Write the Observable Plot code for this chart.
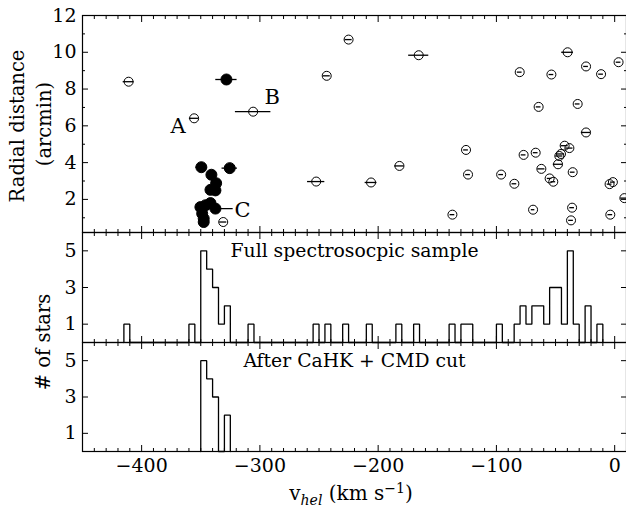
<!DOCTYPE html>
<html>
<head>
<meta charset="utf-8">
<script src="https://cdn.jsdelivr.net/npm/d3@7"></script>
<script src="https://cdn.jsdelivr.net/npm/@observablehq/plot@0.6"></script>
<style>
html, body { margin: 0; padding: 0; background: #fff; overflow: hidden; }
#chart { position: relative; width: 626px; height: 510px; font-family: "DejaVu Serif", serif; color: #000; overflow: hidden; }
.panel { position: absolute; left: 0; }
.panel svg { overflow: visible; }
.lab { position: absolute; white-space: nowrap; line-height: 1; font-size: 19.5px; }
.rot { transform: translate(-50%, -50%) rotate(-90deg); }
</style>
</head>
<body>
<div id="chart">
  <div class="panel" id="p1" style="top:0px"></div>
  <div class="panel" id="p2" style="top:224px"></div>
  <div class="panel" id="p3" style="top:334px"></div>
  <div class="lab rot" style="left:18px; top:126px;">Radial distance</div>
  <div class="lab rot" style="left:45px; top:124px;">(arcmin)</div>
  <div class="lab rot" style="left:44px; top:342px;"># of stars</div>
  <div class="lab" style="left:351px; top:494px; font-size:20px; transform: translate(-50%, -50%);">v<sub style="font-size:14px;font-style:italic">hel</sub> (km s<sup style="font-size:14px">−1</sup>)</div>
</div>
<script>
// ---------------- DATA ----------------
// Non-member stars (open circles): heliocentric velocity, radial distance, velocity error
const openV   = [-411, -355.6, -305.7, -331, -243.5, -225, -165.7, -252.4, -206, -182, -137.2, -125.7, -124,
                 -96, -84.8, -77, -66.8, -69, -62, -55, -51.9, -47.9, -46.8, -45.4, -42.3, -38.3, -35.5, -36, -36.9,
                 -24.2, -4.3, -1.5, -3.7, 8.2, -80.3, -53.5, -39.8, -24.2, -11.5, 3.3, -64.3, -31.3];
const openR   = [8.40, 6.41, 6.77, 0.77, 8.72, 10.69, 9.84, 2.97, 2.92, 3.82, 1.17, 4.69, 3.35,
                 3.35, 2.85, 4.42, 4.54, 1.44, 3.66, 3.14, 2.96, 3.91, 4.36, 4.47, 4.92, 4.79, 3.48, 1.55, 0.86,
                 5.64, 2.83, 2.94, 1.17, 2.07, 8.92, 8.79, 10.0, 9.23, 8.81, 9.46, 7.03, 7.19];
const openErr = [4.6, 4, 15, 3, 3, 3, 8.5, 7.3, 5, 4, 2, 2, 2,
                 2, 2, 2, 2, 1.5, 3, 2, 2, 4, 3, 3, 3, 3, 2, 2, 2,
                 4, 2, 2, 2, 3, 2, 2, 5, 2, 2, 2, 2, 2];

// Member stars (filled circles)
const memberV   = [-328.3, -349.5, -325.5, -341, -337, -341.8, -337.6, -350.3, -346, -341.8, -337.6, -348.8, -347.5, -347.5];
const memberR   = [8.52, 3.75, 3.70, 3.34, 2.88, 2.52, 2.49, 1.58, 1.68, 1.80, 1.50, 1.23, 0.96, 0.77];
const memberErr = [9, 4.6, 6.5, 2, 2, 2, 5, 2, 2, 2, 15, 2, 2, 2];

// Labelled stars: name, which group, index in that group
const labelNames = ["A", "B", "C"];
const labelGroup = ["open", "open", "member"];
const labelIndex = [1, 2, 10];

// Histograms (5 km/s bins): left edge of each non-empty bin and its count
const binWidth = 5;
const fullBinLeft  = [-415, -360, -350, -345, -340, -335, -330, -310, -255, -245, -230, -210, -185, -170, -140,
                      -130, -125, -100, -85, -80, -75, -70, -65, -60, -55, -50, -45, -40, -35, -25, -15];
const fullBinCount = [1, 1, 5, 4, 3, 1, 2, 1, 1, 1, 1, 1, 1, 1, 1,
                      1, 1, 1, 1, 2, 1, 2, 2, 1, 3, 3, 1, 5, 1, 2, 1];
const cutBinLeft  = [-350, -345, -340, -330];
const cutBinCount = [5, 4, 3, 2];

// Axis ticks
const xDomain = [-450, 10];
const xMajor = [-400, -300, -200, -100, 0];
const xMinor = d3.range(-440, 10, 10).filter(v => v % 100 !== 0);
const yTopDomain = [0.2, 12];
const yTopMajor = [2, 4, 6, 8, 10, 12];
const yTopMinor = [1, 3, 5, 7, 9, 11];
const yHistDomain = [0, 6];
const yHistMajor = [1, 3, 5];
const panelTexts = ["Full spectrosocpic sample", "After CaHK + CMD cut"];

// ---------------- HELPERS ----------------
const openStars = openV.map((v, i) => ({v, r: openR[i], e: openErr[i]}));
const memberStars = memberV.map((v, i) => ({v, r: memberR[i], e: memberErr[i]}));
const labels = labelNames.map((name, i) => {
  const s = (labelGroup[i] === "open" ? openStars : memberStars)[labelIndex[i]];
  return {name, v: s.v, r: s.r};
});
const labelOffsets = {A: [-16, 8], B: [19, -14], C: [27, 2]};

function stepVertices(lefts, counts, w) {
  const m = new Map(lefts.map((l, i) => [l, counts[i]]));
  const lo = d3.min(lefts), hi = d3.max(lefts);
  const pts = [{x: lo, y: 0}];
  for (let l = lo; l <= hi + 1e-9; l += w) {
    const c = m.get(l) || 0;
    pts.push({x: l, y: c}, {x: l + w, y: c});
  }
  pts.push({x: hi + w, y: 0});
  return pts;
}

const fmtInt = d => String(d).replace("-", "\u2212");

function frameAxes(yMajor, yMinor, xLabels) {
  const T = 6, t = 3;
  const m = [];
  for (const a of ["bottom", "top"]) {
    m.push(Plot.axisX({anchor: a, ticks: xMajor, tickSize: -T, fill: "none", label: null, strokeWidth: 1}));
    m.push(Plot.axisX({anchor: a, ticks: xMinor, tickSize: -t, fill: "none", label: null, strokeWidth: 1}));
  }
  for (const a of ["left", "right"]) {
    m.push(Plot.axisY({anchor: a, ticks: yMajor, tickSize: -T, fill: "none", label: null, strokeWidth: 1}));
    if (yMinor.length) m.push(Plot.axisY({anchor: a, ticks: yMinor, tickSize: -t, fill: "none", label: null, strokeWidth: 1}));
  }
  m.push(Plot.axisY({anchor: "left", ticks: yMajor, tickSize: 0, tickPadding: 6, stroke: "none", label: null, fontSize: 19, tickFormat: fmtInt}));
  if (xLabels) m.push(Plot.axisX({anchor: "bottom", ticks: xMajor, tickSize: 0, tickPadding: 7, stroke: "none", label: null, fontSize: 19, tickFormat: fmtInt}));
  m.push(Plot.frame({stroke: "black", strokeWidth: 1.2}));
  return m;
}

const common = {
  width: 626,
  marginLeft: 82,
  marginRight: 0,
  style: {fontFamily: "DejaVu Serif", fontSize: "19px", background: "transparent", overflow: "visible", color: "black"}
};

// ---------------- PANEL 1: scatter ----------------
const p1 = Plot.plot({
  ...common,
  height: 240,
  marginTop: 15,
  marginBottom: 8,
  x: {domain: xDomain},
  y: {domain: yTopDomain},
  marks: [
    Plot.ruleY(openStars, {y: "r", x1: d => d.v - d.e, x2: d => d.v + d.e, stroke: "black", strokeWidth: 1.3}),
    Plot.dot(openStars, {x: "v", y: "r", r: 4.5, stroke: "black", fill: "none", strokeWidth: 1}),
    Plot.ruleY(memberStars, {y: "r", x1: d => d.v - d.e, x2: d => d.v + d.e, stroke: "black", strokeWidth: 1.3}),
    Plot.dot(memberStars, {x: "v", y: "r", r: 5.5, stroke: "black", fill: "black", strokeWidth: 1}),
    ...labels.map(l => Plot.text([l], {x: "v", y: "r", text: "name", dx: labelOffsets[l.name][0], dy: labelOffsets[l.name][1], fontSize: 21, fill: "black"})),
    ...frameAxes(yTopMajor, yTopMinor, false)
  ]
});
document.getElementById("p1").append(p1);

// ---------------- PANEL 2: full sample histogram ----------------
const p2 = Plot.plot({
  ...common,
  height: 126,
  marginTop: 8,
  marginBottom: 8,
  x: {domain: xDomain},
  y: {domain: yHistDomain},
  marks: [
    Plot.line(stepVertices(fullBinLeft, fullBinCount, binWidth), {x: "x", y: "y", stroke: "black", strokeWidth: 1.3, strokeLinejoin: "miter"}),
    Plot.text([panelTexts[0]], {frameAnchor: "top", lineAnchor: "middle", dy: 18, fontSize: 18.8, fill: "black"}),
    ...frameAxes(yHistMajor, [], false)
  ]
});
document.getElementById("p2").append(p2);

// ---------------- PANEL 3: after cut histogram ----------------
const p3 = Plot.plot({
  ...common,
  height: 176,
  marginTop: 8,
  marginBottom: 59,
  x: {domain: xDomain},
  y: {domain: yHistDomain},
  marks: [
    Plot.line(stepVertices(cutBinLeft, cutBinCount, binWidth), {x: "x", y: "y", stroke: "black", strokeWidth: 1.3, strokeLinejoin: "miter"}),
    Plot.text([panelTexts[1]], {frameAnchor: "top", lineAnchor: "middle", dy: 18, fontSize: 18.8, fill: "black"}),
    ...frameAxes(yHistMajor, [], true)
  ]
});
document.getElementById("p3").append(p3);
</script>
</body>
</html>
